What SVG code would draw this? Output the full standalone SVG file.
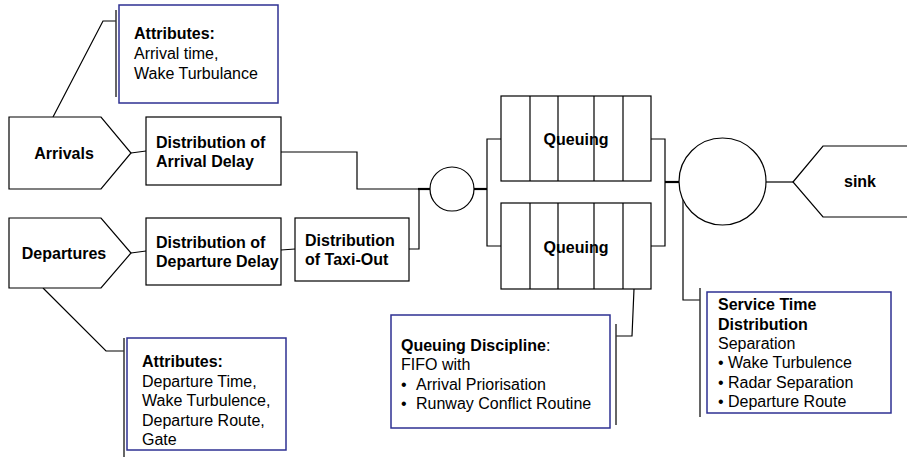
<svg xmlns="http://www.w3.org/2000/svg" width="907" height="461" viewBox="0 0 907 461">
<style>
text{font-family:"Liberation Sans",Arial,sans-serif;font-size:16px;fill:#000}
.b{font-weight:bold}
.shape{fill:#fff;stroke:#000;stroke-width:1.2}
.note{fill:#fff;stroke:#2e3192;stroke-width:1.5}
.ln{fill:none;stroke:#000;stroke-width:1.2}
.thk{fill:none;stroke:#000;stroke-width:2.2}
.brk{fill:none;stroke:#333;stroke-width:1.5}
.c{text-anchor:middle}
</style>
<rect width="907" height="461" fill="#fff"/>
<g id="connectors">
  <polyline class="ln" points="116,21 103,21 53,117"/>
  <line class="brk" x1="116" y1="10" x2="116" y2="97"/>
  <polyline class="ln" points="43,288 106,351 124,351"/>
  <line class="brk" x1="124" y1="338" x2="124" y2="457"/>
  <line class="ln" x1="131" y1="153" x2="146" y2="151"/>
  <line class="ln" x1="131" y1="253" x2="146" y2="251"/>
  <line class="ln" x1="281" y1="250" x2="295" y2="249"/>
  <polyline class="ln" points="281,152 357,152 357,189 419,189"/>
  <line class="thk" x1="418" y1="189" x2="430" y2="189"/>
  <polyline class="ln" points="409,249 419,249 419,189"/>
  <line class="thk" x1="474" y1="189" x2="487" y2="189"/>
  <polyline class="ln" points="501,139 487,139 487,246 501,246"/>
  <polyline class="ln" points="651,139 665,139 665,246 651,246"/>
  <line class="thk" x1="665" y1="182" x2="679" y2="182"/>
  <line class="ln" x1="766" y1="182" x2="793" y2="182"/>
  <polyline class="ln" points="634,289 632,336 616,336"/>
  <line class="brk" x1="616" y1="324" x2="616" y2="425"/>
  <polyline class="ln" points="683,190 683,300 700,300"/>
  <line class="brk" x1="700" y1="288" x2="700" y2="417"/>
</g>
<g id="attr-arrivals">
  <rect class="note" x="119" y="5" width="159" height="98"/>
  <text x="134" y="39" class="b">Attributes:</text>
  <text x="134" y="59">Arrival time,</text>
  <text x="134" y="79">Wake Turbulance</text>
</g>
<g id="arrivals">
  <polygon class="shape" points="9,117 101,117 131,153 101,189 9,189"/>
  <text x="64" y="159" class="b c">Arrivals</text>
</g>
<g id="departures">
  <polygon class="shape" points="9,218 101,218 131,253 101,288 9,288"/>
  <text x="64" y="259" class="b c">Departures</text>
</g>
<g id="arrival-delay">
  <rect class="shape" x="146" y="117" width="135" height="68"/>
  <text x="156" y="148" class="b">Distribution of</text>
  <text x="156" y="167" class="b">Arrival Delay</text>
</g>
<g id="departure-delay">
  <rect class="shape" x="146" y="218" width="135" height="67"/>
  <text x="156" y="248" class="b">Distribution of</text>
  <text x="156" y="267" class="b">Departure Delay</text>
</g>
<g id="taxi-out">
  <rect class="shape" x="295" y="218" width="114" height="63"/>
  <text x="305" y="245.5" class="b">Distribution</text>
  <text x="305" y="265" class="b">of Taxi-Out</text>
</g>
<g id="attr-departures">
  <rect class="note" x="127" y="338" width="159" height="112"/>
  <text x="142" y="367" class="b">Attributes:</text>
  <text x="142" y="386.5">Departure Time,</text>
  <text x="142" y="406">Wake Turbulence,</text>
  <text x="142" y="425.5">Departure Route,</text>
  <text x="142" y="445">Gate</text>
</g>
<g id="merge">
  <circle class="shape" cx="452" cy="189" r="22"/>
</g>
<g id="queue1">
  <rect class="shape" x="501" y="96" width="150" height="85"/>
  <path class="ln" d="M530,96V181M558,96V181M594,96V181M623,96V181"/>
  <text x="576" y="145" class="b c">Queuing</text>
</g>
<g id="queue2">
  <rect class="shape" x="501" y="203" width="150" height="86"/>
  <path class="ln" d="M530,203V289M558,203V289M594,203V289M623,203V289"/>
  <text x="576" y="252.5" class="b c">Queuing</text>
</g>
<g id="queuing-discipline">
  <rect class="note" x="391" y="315" width="219" height="113"/>
  <text x="401" y="350.5"><tspan class="b">Queuing Discipline</tspan>:</text>
  <text x="401" y="370">FIFO with</text>
  <text y="389.5"><tspan x="401">•</tspan><tspan x="416">Arrival Priorisation</tspan></text>
  <text y="409"><tspan x="401">•</tspan><tspan x="416">Runway Conflict Routine</tspan></text>
</g>
<g id="server">
  <circle class="shape" cx="722.5" cy="181.5" r="43.5"/>
</g>
<g id="sink">
  <polygon class="shape" points="793,182 823,146 912,146 912,217 823,217"/>
  <text x="860" y="187" class="b c">sink</text>
</g>
<g id="service-time">
  <rect class="note" x="707" y="292" width="184" height="121"/>
  <text x="718" y="310" class="b">Service Time</text>
  <text x="718" y="329.5" class="b">Distribution</text>
  <text x="718" y="348.5">Separation</text>
  <text y="368"><tspan x="718">•</tspan><tspan x="728">Wake Turbulence</tspan></text>
  <text y="387.5"><tspan x="718">•</tspan><tspan x="728">Radar Separation</tspan></text>
  <text y="407"><tspan x="718">•</tspan><tspan x="728">Departure Route</tspan></text>
</g>
</svg>
